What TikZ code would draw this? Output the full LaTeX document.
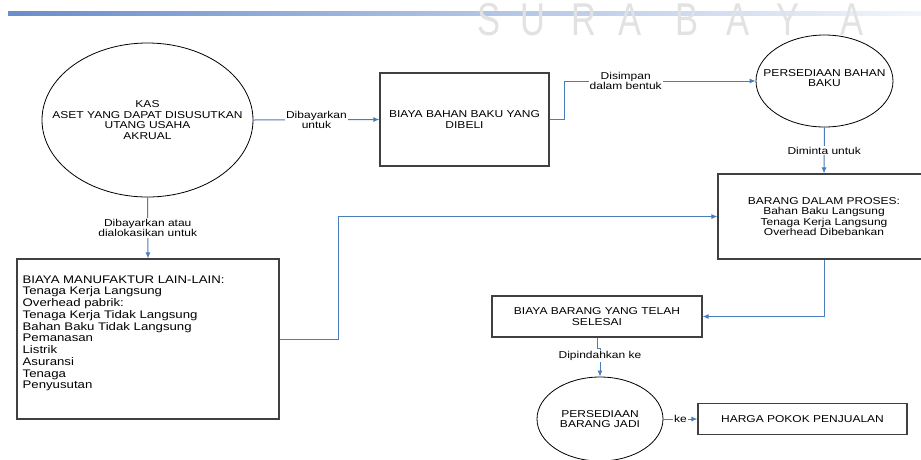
\documentclass[tikz,border=0pt]{standalone}
\usepackage{fontspec}
\newfontfamily\diagfont[FakeStretch=1.2]{Liberation Sans}
\newfontfamily\wmfont[FakeStretch=0.75]{Liberation Sans}
\usetikzlibrary{arrows.meta,positioning,shapes.geometric}
\definecolor{lnBlue}{HTML}{4A7EBB}
\definecolor{barBlue}{HTML}{6A8ECB}
\definecolor{barPale}{HTML}{F2F5FB}
\definecolor{boxGray}{HTML}{404040}
\definecolor{wmGray}{HTML}{E2E2E2}
\newcommand\txtsize{\diagfont\fontsize{10}{10.5}\selectfont}
\newcommand\listsize{\diagfont\fontsize{11}{11.74}\selectfont}

\begin{document}
\begin{tikzpicture}[
  x=1pt, y=-1pt,
  box/.style={draw=boxGray, line width=1.1pt, inner sep=0pt, align=center, font=\txtsize},
  bub/.style={ellipse, draw=black, line width=0.8pt, inner sep=0pt},
  txt/.style={align=center, font=\txtsize, inner sep=0pt},
  lab/.style={fill=white, inner sep=1pt, align=center, font=\txtsize},
  arr/.style={-{Latex[length=6pt,width=5pt]}, draw=lnBlue, line width=1pt}
]
\fill[white] (0,0) rectangle (921,459);
\clip (0,0) rectangle (921,459);
\shade[left color=barBlue, right color=barPale] (8,11) rectangle (921,15.5);
\foreach \ch/\px in {S/489,U/533,R/584,A/630,B/687,A/738,Y/788,A/852}
  \node[anchor=base, inner sep=0pt, text=wmGray, font=\wmfont\fontsize{46}{46}\selectfont] at (\px,35) {\ch};

\node[bub, minimum width=211pt, minimum height=154pt] (kas) at (147.5,120) {};
\node[txt] at (kas) {KAS\\ASET YANG DAPAT DISUSUTKAN\\UTANG USAHA\\AKRUAL};
\node[box, minimum width=169pt, minimum height=93pt] (beli) at (464.5,119.5) {BIAYA BAHAN BAKU YANG\\DIBELI};
\node[bub, minimum width=137pt, minimum height=92pt] (bahan) at (824.5,81) {};
\node[txt] at ([yshift=3pt]bahan.center) {PERSEDIAAN BAHAN\\BAKU};
\node[box, minimum width=212pt, minimum height=85pt] (proses) at (824,216.5) {BARANG DALAM PROSES:\\Bahan Baku Langsung\\Tenaga Kerja Langsung\\Overhead Dibebankan};
\node[box, minimum width=262pt, minimum height=160pt] (manuf) at (148,339) {};
\node[align=left, inner sep=0pt, font=\listsize, below right=17pt and 6pt of manuf.north west] (manuftxt) {BIAYA MANUFAKTUR LAIN-LAIN:\\Tenaga Kerja Langsung\\Overhead pabrik:\\Tenaga Kerja Tidak Langsung\\Bahan Baku Tidak Langsung\\Pemanasan\\Listrik\\Asuransi\\Tenaga\\Penyusutan};
\node[box, minimum width=210pt, minimum height=41pt] (selesai) at (597,316.5) {BIAYA BARANG YANG TELAH\\SELESAI};
\node[bub, minimum width=126pt, minimum height=84pt] (jadi) at (600,419) {};
\node[txt] at (jadi) {PERSEDIAAN\\BARANG JADI};
\node[box, minimum width=209pt, minimum height=31pt] (hpp) at (802.5,419) {HARGA POKOK PENJUALAN};

\draw[arr] (kas.east) -- node[lab]{Dibayarkan\\untuk} (beli.west);
\draw[arr] (beli.east) -- ++(15,0) |- node[lab, pos=0.66]{Disimpan\\dalam bentuk} (bahan.west);
\draw[arr] (bahan.south) -- node[lab]{Diminta untuk} (proses.north);
\draw[arr] (kas.south) -- node[lab]{Dibayarkan atau\\dialokasikan untuk} (manuf.north);
\draw[arr] (manuf.east) -- ++(59,0) |- (proses.west);
\draw[arr] (proses.south) |- (selesai.east);
\draw[arr] (selesai.south) -- ++(0,11) -| node[lab, pos=0.63]{Dipindahkan ke} (jadi.north);
\draw[arr] (jadi.east) -- node[lab]{ke} (hpp.west);
\end{tikzpicture}
\end{document}
